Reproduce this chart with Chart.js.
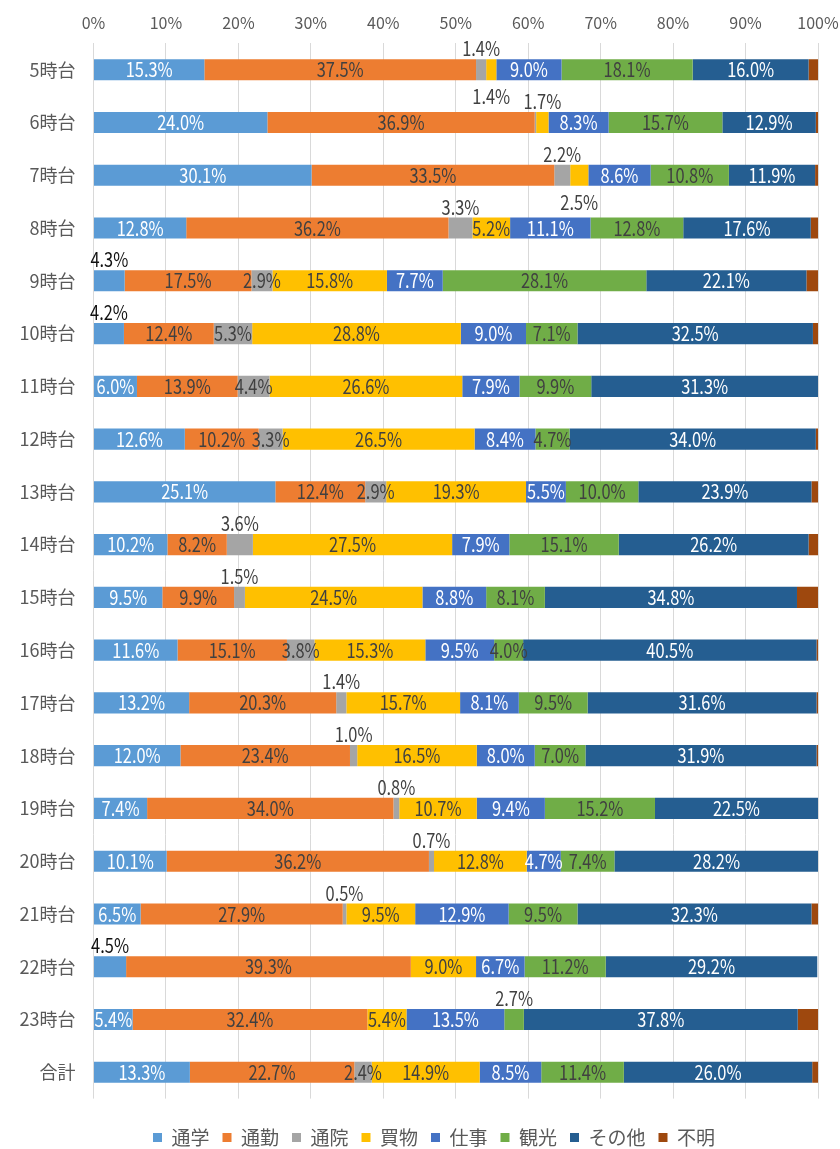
<!DOCTYPE html>
<html>
<head>
<meta charset="utf-8">
<script src="https://cdn.jsdelivr.net/npm/chart.js@4/dist/chart.umd.min.js"></script>
<style>
  html, body { margin: 0; background: #fff; }
  #wrap { width: 840px; height: 1149px; }
</style>
</head>
<body>
<div id="wrap"><canvas id="purpose-chart"></canvas></div>
<script>
// 時間帯別 利用目的構成比 (100% stacked)
const hours = ['5時台', '6時台', '7時台', '8時台', '9時台', '10時台', '11時台', '12時台', '13時台', '14時台',
  '15時台', '16時台', '17時台', '18時台', '19時台', '20時台', '21時台', '22時台', '23時台', '合計']

const tsugaku = [15.3, 24.0, 30.1, 12.8, 4.3, 4.2, 6.0, 12.6, 25.1, 10.2, 9.5, 11.6, 13.2, 12.0, 7.4, 10.1, 6.5, 4.5, 5.4, 13.3]
const tsukin  = [37.5, 36.9, 33.5, 36.2, 17.5, 12.4, 13.9, 10.2, 12.4, 8.2, 9.9, 15.1, 20.3, 23.4, 34.0, 36.2, 27.9, 39.3, 32.4, 22.7]
const tsuin   = [1.4, 0.2, 2.2, 3.3, 2.9, 5.3, 4.4, 3.3, 2.9, 3.6, 1.5, 3.8, 1.4, 1.0, 0.8, 0.7, 0.5, 0, 0, 2.4]
const kaimono = [1.4, 1.7, 2.5, 5.2, 15.8, 28.8, 26.6, 26.5, 19.3, 27.5, 24.5, 15.3, 15.7, 16.5, 10.7, 12.8, 9.5, 9.0, 5.4, 14.9]
const shigoto = [9.0, 8.3, 8.6, 11.1, 7.7, 9.0, 7.9, 8.4, 5.5, 7.9, 8.8, 9.5, 8.1, 8.0, 9.4, 4.7, 12.9, 6.7, 13.5, 8.5]
const kanko   = [18.1, 15.7, 10.8, 12.8, 28.1, 7.1, 9.9, 4.7, 10.0, 15.1, 8.1, 4.0, 9.5, 7.0, 15.2, 7.4, 9.5, 11.2, 2.7, 11.4]
const sonota  = [16.0, 12.9, 11.9, 17.6, 22.1, 32.5, 31.3, 34.0, 23.9, 26.2, 34.8, 40.5, 31.6, 31.9, 22.5, 28.2, 32.3, 29.2, 37.8, 26.0]
const fumei   = [1.3, 0.3, 0.4, 1.0, 1.6, 0.7, 0, 0.3, 0.9, 1.3, 2.9, 0.2, 0.2, 0.2, 0, 0, 0.9, 0, 2.8, 0.8]

const seriesNames = ['通学', '通勤', '通院', '買物', '仕事', '観光', 'その他', '不明']
const seriesData  = [tsugaku, tsukin, tsuin, kaimono, shigoto, kanko, sonota, fumei]
const colors      = ['#5B9BD5', '#ED7D31', '#A5A5A5', '#FFC000', '#4472C4', '#70AD47', '#255E91', '#9E480E']
const labelColors = ['#fff', '#404040', '#404040', '#404040', '#fff', '#404040', '#fff', null]

// small segments whose label sits outside the bar: [row, series, side]
const callouts = [
  [0, 2, 'above'], [0, 3, 'below'], [1, 3, 'above'], [2, 2, 'above'], [2, 3, 'below'],
  [3, 2, 'above'], [4, 0, 'above'], [5, 0, 'above'], [9, 2, 'above'], [10, 2, 'above'],
  [12, 2, 'above'], [13, 2, 'above'], [14, 2, 'above'], [15, 2, 'above'], [16, 2, 'above'],
  [17, 0, 'above'], [18, 5, 'above'],
]

const FONT = '"Noto Sans CJK JP", "Noto Sans", sans-serif'
Chart.defaults.font.family = FONT

const segLabels = {
  id: 'segLabels',
  afterDatasetsDraw(chart) {
    const ctx = chart.ctx
    ctx.save()
    ctx.font = `20px ${FONT}`
    ctx.textAlign = 'center'
    ctx.textBaseline = 'middle'
    chart.data.datasets.forEach((ds, si) => {
      if (!labelColors[si]) return
      chart.getDatasetMeta(si).data.forEach((bar, ri) => {
        const v = ds.data[ri]
        const co = callouts.find(c => c[0] === ri && c[1] === si)
        const { x: x1, base: x0, y: yc } = bar.getProps(['x', 'base', 'y'], true)
        let y = yc, color
        if (co) {
          y += co[2] === 'above' ? -21 : 27
          color = si === 0 ? '#111' : '#404040'
        } else if (v >= 2) {
          color = labelColors[si]
        } else return
        ctx.fillStyle = color
        ctx.save()
        ctx.translate((x0 + x1) / 2, y)
        ctx.scale(0.82, 1)
        ctx.fillText(v.toFixed(1) + '%', 0, 0)
        ctx.restore()
      })
    })
    ctx.restore()
  },
}

new Chart(document.getElementById('purpose-chart'), {
  type: 'bar',
  data: {
    labels: hours,
    datasets: seriesNames.map((name, i) => ({
      label: name,
      data: seriesData[i],
      backgroundColor: colors[i],
      borderWidth: 0,
      barPercentage: 0.4,
      categoryPercentage: 1,
    })),
  },
  options: {
    indexAxis: 'y',
    responsive: true,
    maintainAspectRatio: false,
    animation: false,
    layout: { padding: { top: 0, left: 14, right: -14, bottom: -8 } },
    plugins: {
      tooltip: { enabled: false },
      legend: {
        position: 'bottom',
        title: { display: true, text: '', padding: 1, font: { size: 12 } },
        labels: { boxWidth: 9, boxHeight: 9, padding: 13, color: '#595959', font: { size: 19 } },
      },
    },
    scales: {
      x: {
        stacked: true,
        position: 'top',
        min: 0,
        max: 100,
        grid: { color: '#D9D9D9', drawTicks: false },
        border: { display: false },
        ticks: { stepSize: 10, padding: 11, color: '#595959', font: { size: 16 }, callback: v => v + '%' },
        afterFit: s => { s.height = 43.4; s.paddingLeft = 0; s.paddingRight = 22 },
      },
      y: {
        stacked: true,
        grid: { display: false, drawTicks: false },
        border: { display: false },
        ticks: { padding: 18, color: '#595959', font: { size: 18 } },
        afterFit: s => { s.width = 79.5; s.paddingTop = 0; s.paddingBottom = 0 },
      },
    },
  },
  plugins: [segLabels],
})
</script>
</body>
</html>
